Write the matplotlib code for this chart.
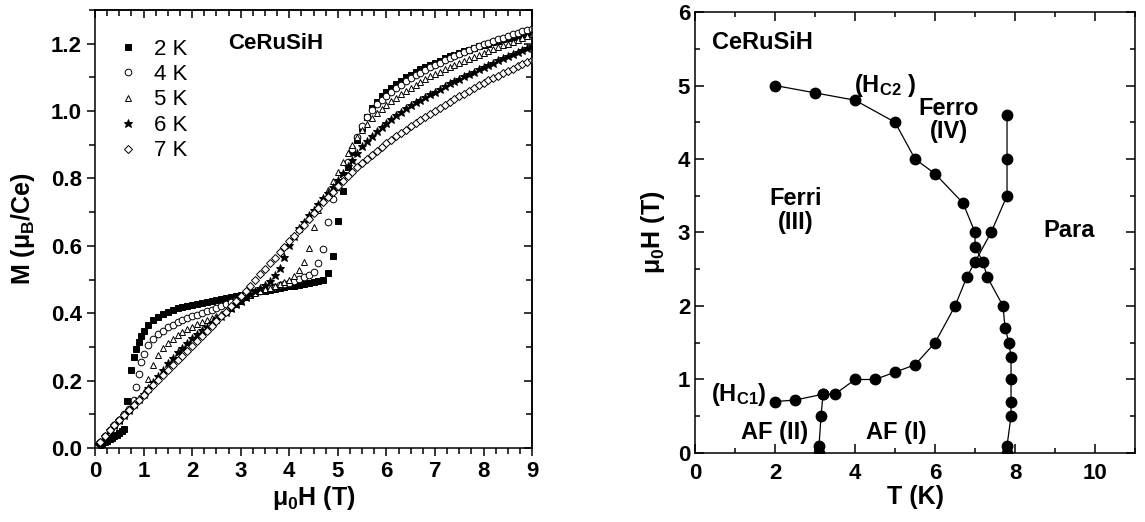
import numpy as np
import matplotlib
matplotlib.use("Agg")
import matplotlib.pyplot as plt
from matplotlib.ticker import MultipleLocator, FormatStrFormatter

plt.rcParams["font.family"] = "Liberation Sans"
plt.rcParams["font.weight"] = "bold"
plt.rcParams["mathtext.fontset"] = "custom"
plt.rcParams["mathtext.rm"] = "Liberation Sans:bold"
plt.rcParams["mathtext.it"] = "Liberation Sans:bold"
plt.rcParams["mathtext.bf"] = "Liberation Sans:bold"
plt.rcParams["axes.linewidth"] = 1.1

# ---- left panel: M(H) isotherms ----
# common field points above 1 T (T)
field_hi = [1.0, 1.1, 1.2, 1.3, 1.4, 1.5, 1.6, 1.7, 1.8, 1.9,
            2.0, 2.1, 2.2, 2.3, 2.4, 2.5, 2.6, 2.7, 2.8, 2.9,
            3.0, 3.1, 3.2, 3.3, 3.4, 3.5, 3.6, 3.7, 3.8, 3.9,
            4.0, 4.1, 4.2, 4.3, 4.4, 4.5, 4.6, 4.7, 4.8, 4.9,
            5.0, 5.1, 5.2, 5.3, 5.4, 5.5, 5.6, 5.7, 5.8, 5.9,
            6.0, 6.1, 6.2, 6.3, 6.4, 6.5, 6.6, 6.7, 6.8, 6.9,
            7.0, 7.1, 7.2, 7.3, 7.4, 7.5, 7.6, 7.7, 7.8, 7.9,
            8.0, 8.1, 8.2, 8.3, 8.4, 8.5, 8.6, 8.7, 8.8, 8.9,
            9.0]

# 2 K
h2_lo = [0.0, 0.05, 0.1, 0.15, 0.2, 0.25, 0.3, 0.35, 0.4, 0.45, 0.5, 0.55, 0.6,
         0.65, 0.75, 0.8, 0.85, 0.9, 0.95]
m2_lo = [0.000, 0.005, 0.009, 0.013, 0.018, 0.022, 0.027, 0.031, 0.036, 0.040, 0.045, 0.050, 0.055,
         0.139, 0.231, 0.270, 0.293, 0.315, 0.333]
m2_hi = [0.348, 0.366, 0.380, 0.390, 0.398, 0.404, 0.409, 0.414, 0.418, 0.422,
         0.425, 0.428, 0.431, 0.434, 0.437, 0.440, 0.443, 0.446, 0.449, 0.452,
         0.455, 0.457, 0.460, 0.462, 0.465, 0.467, 0.470, 0.472, 0.475, 0.477,
         0.480, 0.482, 0.485, 0.488, 0.490, 0.493, 0.496, 0.500, 0.520, 0.570,
         0.675, 0.764, 0.835, 0.877, 0.915, 0.950, 0.982, 1.008, 1.028, 1.044,
         1.057, 1.069, 1.080, 1.090, 1.100, 1.108, 1.116, 1.124, 1.131, 1.138,
         1.144, 1.150, 1.156, 1.162, 1.167, 1.172, 1.177, 1.182, 1.187, 1.192,
         1.196, 1.200, 1.205, 1.209, 1.213, 1.217, 1.221, 1.225, 1.229, 1.233,
         1.237]

# 4 K
h4_lo = [0.0, 0.1, 0.2, 0.3, 0.4, 0.5, 0.6, 0.7, 0.8, 0.85, 0.9, 0.95]
m4_lo = [0.000, 0.018, 0.035, 0.052, 0.068, 0.084, 0.100, 0.117, 0.142, 0.180, 0.221, 0.256]
m4_hi = [0.280, 0.306, 0.323, 0.337, 0.348, 0.358, 0.366, 0.373, 0.379, 0.385,
         0.391, 0.396, 0.401, 0.406, 0.411, 0.416, 0.421, 0.427, 0.433, 0.440,
         0.447, 0.453, 0.458, 0.463, 0.467, 0.471, 0.475, 0.479, 0.483, 0.487,
         0.491, 0.496, 0.501, 0.507, 0.514, 0.523, 0.548, 0.590, 0.672, 0.738,
         0.775, 0.810, 0.848, 0.886, 0.922, 0.955, 0.982, 1.003, 1.020, 1.034,
         1.046, 1.057, 1.068, 1.078, 1.088, 1.097, 1.106, 1.114, 1.122, 1.130,
         1.137, 1.144, 1.151, 1.158, 1.164, 1.170, 1.176, 1.182, 1.188, 1.193,
         1.198, 1.203, 1.208, 1.213, 1.218, 1.223, 1.228, 1.233, 1.237, 1.241,
         1.245]

# 5, 6, 7 K share the low-field points
h_lo = [0.0, 0.1, 0.2, 0.3, 0.4, 0.5, 0.6, 0.7, 0.8, 0.9]
m5_lo = [0.000, 0.018, 0.035, 0.052, 0.068, 0.084, 0.100, 0.115, 0.131, 0.148]
m5_hi = [0.165, 0.205, 0.247, 0.275, 0.297, 0.312, 0.324, 0.335, 0.344, 0.352,
         0.360, 0.367, 0.373, 0.379, 0.385, 0.392, 0.399, 0.407, 0.416, 0.426,
         0.437, 0.447, 0.455, 0.461, 0.466, 0.471, 0.476, 0.481, 0.486, 0.492,
         0.499, 0.509, 0.528, 0.553, 0.595, 0.655, 0.706, 0.738, 0.765, 0.792,
         0.820, 0.848, 0.875, 0.900, 0.924, 0.945, 0.963, 0.979, 0.993, 1.006,
         1.018, 1.029, 1.040, 1.050, 1.060, 1.069, 1.078, 1.087, 1.095, 1.103,
         1.110, 1.117, 1.124, 1.131, 1.137, 1.143, 1.149, 1.155, 1.161, 1.167,
         1.173, 1.179, 1.184, 1.190, 1.195, 1.200, 1.206, 1.211, 1.216, 1.222,
         1.228]

m6_lo = [0.000, 0.018, 0.035, 0.052, 0.068, 0.084, 0.099, 0.114, 0.130, 0.145]
m6_hi = [0.161, 0.178, 0.195, 0.213, 0.232, 0.252, 0.268, 0.284, 0.298, 0.312,
         0.325, 0.337, 0.349, 0.360, 0.371, 0.382, 0.393, 0.404, 0.415, 0.426,
         0.437, 0.448, 0.458, 0.467, 0.475, 0.483, 0.495, 0.513, 0.535, 0.568,
         0.601, 0.630, 0.652, 0.672, 0.690, 0.707, 0.724, 0.741, 0.758, 0.776,
         0.795, 0.815, 0.836, 0.856, 0.876, 0.895, 0.912, 0.927, 0.941, 0.954,
         0.966, 0.977, 0.988, 0.998, 1.008, 1.017, 1.026, 1.034, 1.042, 1.050,
         1.058, 1.066, 1.074, 1.082, 1.089, 1.096, 1.103, 1.110, 1.117, 1.124,
         1.131, 1.138, 1.144, 1.151, 1.157, 1.163, 1.169, 1.175, 1.181, 1.186,
         1.192]

m7_lo = [0.000, 0.018, 0.035, 0.052, 0.068, 0.083, 0.098, 0.113, 0.128, 0.143]
m7_hi = [0.158, 0.172, 0.187, 0.202, 0.216, 0.231, 0.245, 0.260, 0.274, 0.289,
         0.303, 0.318, 0.332, 0.347, 0.361, 0.376, 0.391, 0.405, 0.420, 0.435,
         0.450, 0.466, 0.482, 0.499, 0.515, 0.532, 0.548, 0.565, 0.581, 0.597,
         0.614, 0.630, 0.647, 0.663, 0.679, 0.696, 0.712, 0.729, 0.745, 0.761,
         0.777, 0.792, 0.806, 0.820, 0.833, 0.846, 0.858, 0.870, 0.882, 0.893,
         0.904, 0.915, 0.925, 0.935, 0.945, 0.955, 0.964, 0.973, 0.982, 0.991,
         1.000, 1.009, 1.018, 1.027, 1.036, 1.044, 1.052, 1.060, 1.068, 1.076,
         1.084, 1.091, 1.098, 1.105, 1.112, 1.119, 1.126, 1.133, 1.139, 1.146,
         1.152]

# ---- right panel: phase diagram (T in K, mu0H in T) ----
hc2_T = [2.0, 3.0, 4.0, 5.0, 5.5, 6.0, 6.7, 7.0, 7.0, 7.2, 7.3, 7.7, 7.75, 7.85, 7.9, 7.9, 7.9, 7.9, 7.8, 7.8]
hc2_H = [5.0, 4.9, 4.8, 4.5, 4.0, 3.8, 3.4, 3.0, 2.8, 2.6, 2.4, 2.0, 1.7, 1.5, 1.3, 1.0, 0.7, 0.5, 0.1, 0.0]
hc1_T = [2.0, 2.5, 3.2, 3.5, 4.0, 4.5, 5.0, 5.5, 6.0, 6.5, 6.8, 7.0, 7.4, 7.8, 7.8, 7.8]
hc1_H = [0.7, 0.72, 0.8, 0.8, 1.0, 1.0, 1.1, 1.2, 1.5, 2.0, 2.4, 2.6, 3.0, 3.5, 4.0, 4.6]
af_T = [3.2, 3.15, 3.1, 3.1]
af_H = [0.8, 0.5, 0.1, 0.0]

fig = plt.figure(figsize=(11.45, 5.22), dpi=100)
ax1 = fig.add_axes([0.0830, 0.1418, 0.3817, 0.8391])
ax2 = fig.add_axes([0.6070, 0.1322, 0.3843, 0.8448])

curves = [
    (h2_lo + field_hi, m2_lo + m2_hi, "s", "black", 4.4, "2 K"),
    (h4_lo + field_hi, m4_lo + m4_hi, "o", "white", 4.8, "4 K"),
    (h_lo + field_hi, m5_lo + m5_hi, "^", "white", 4.8, "5 K"),
    (h_lo + field_hi, m6_lo + m6_hi, "*", "black", 6.4, "6 K"),
    (h_lo + field_hi, m7_lo + m7_hi, "D", "white", 4.0, "7 K"),
]
for h, m, mk, fc, ms, lab in curves:
    ax1.plot(h, m, linestyle="none", marker=mk, ms=ms, mfc=fc, mec="black",
             mew=0.7, label=lab)

ax1.set_xlim(0, 9)
ax1.set_ylim(0, 1.3)
ax1.xaxis.set_major_locator(MultipleLocator(1))
ax1.xaxis.set_minor_locator(MultipleLocator(0.25))
ax1.yaxis.set_major_locator(MultipleLocator(0.2))
ax1.yaxis.set_minor_locator(MultipleLocator(0.1))
ax1.yaxis.set_major_formatter(FormatStrFormatter("%.1f"))
ax1.tick_params(which="both", direction="out", width=1.1, labelsize=16)
ax1.tick_params(which="major", length=6)
ax1.tick_params(which="minor", length=4)
secx = ax1.secondary_xaxis("top")
secx.xaxis.set_major_locator(MultipleLocator(1))
secx.xaxis.set_minor_locator(MultipleLocator(0.25))
secx.tick_params(which="both", direction="in", labeltop=False, width=1.1)
secx.tick_params(which="major", length=6)
secx.tick_params(which="minor", length=4)
secy = ax1.secondary_yaxis("right")
secy.yaxis.set_major_locator(MultipleLocator(0.2))
secy.yaxis.set_minor_locator(MultipleLocator(0.1))
secy.tick_params(which="both", direction="in", labelright=False, width=1.1)
secy.tick_params(which="major", length=6)
secy.tick_params(which="minor", length=4)

ax1.set_xlabel(r"μ$_0$H (T)", fontsize=18, fontweight="bold", labelpad=1)
ax1.set_ylabel(r"M (μ$_B$/Ce)", fontsize=18, fontweight="bold", labelpad=10)
ax1.text(2.75, 1.2, "CeRuSiH", fontsize=16, fontweight="bold", va="center", ha="left")
ax1.legend(loc="upper left", bbox_to_anchor=(0.025, 0.955), frameon=False,
           prop={"weight": "normal", "size": 16}, handletextpad=0.55,
           labelspacing=0.2, handlelength=1.2, borderaxespad=0)

# phase diagram
line_kw = dict(color="black", lw=0.9, marker="o", ms=7.5, mfc="black", mec="black")
ax2.plot(hc2_T, hc2_H, **line_kw)
ax2.plot(hc1_T, hc1_H, **line_kw)
ax2.plot(af_T, af_H, **line_kw)
ax2.set_xlim(0, 11)
ax2.set_ylim(0, 6)
ax2.xaxis.set_major_locator(MultipleLocator(2))
ax2.xaxis.set_minor_locator(MultipleLocator(1))
ax2.yaxis.set_major_locator(MultipleLocator(1))
ax2.yaxis.set_minor_locator(MultipleLocator(0.5))
ax2.tick_params(which="both", direction="in", top=True, right=True, width=1.1, labelsize=16)
ax2.tick_params(which="major", length=6.5)
ax2.tick_params(which="minor", length=3.5)
ax2.tick_params(axis="x", pad=7)
ax2.set_xlabel("T (K)", fontsize=18, fontweight="bold", labelpad=1)
ax2.set_ylabel(r"μ$_0$H (T)", fontsize=18, fontweight="bold", labelpad=8)

txt = dict(fontsize=17, fontweight="bold", ha="center", va="center")
ax2.text(1.68, 5.58, "CeRuSiH", **txt)
ax2.text(4.75, 5.0, r"(H$_{C2}$ )", **txt)
ax2.text(6.35, 4.53, "Ferro\n(IV)", linespacing=1.05, **txt)
ax2.text(2.52, 3.3, "Ferri\n(III)", linespacing=1.05, **txt)
ax2.text(9.35, 3.03, "Para", **txt)
ax2.text(1.1, 0.8, r"(H$_{C1}$)", **txt)
ax2.text(1.98, 0.28, "AF (II)", **txt)
ax2.text(5.03, 0.28, "AF (I)", **txt)

fig.savefig("out.png", dpi=100, facecolor="white")
